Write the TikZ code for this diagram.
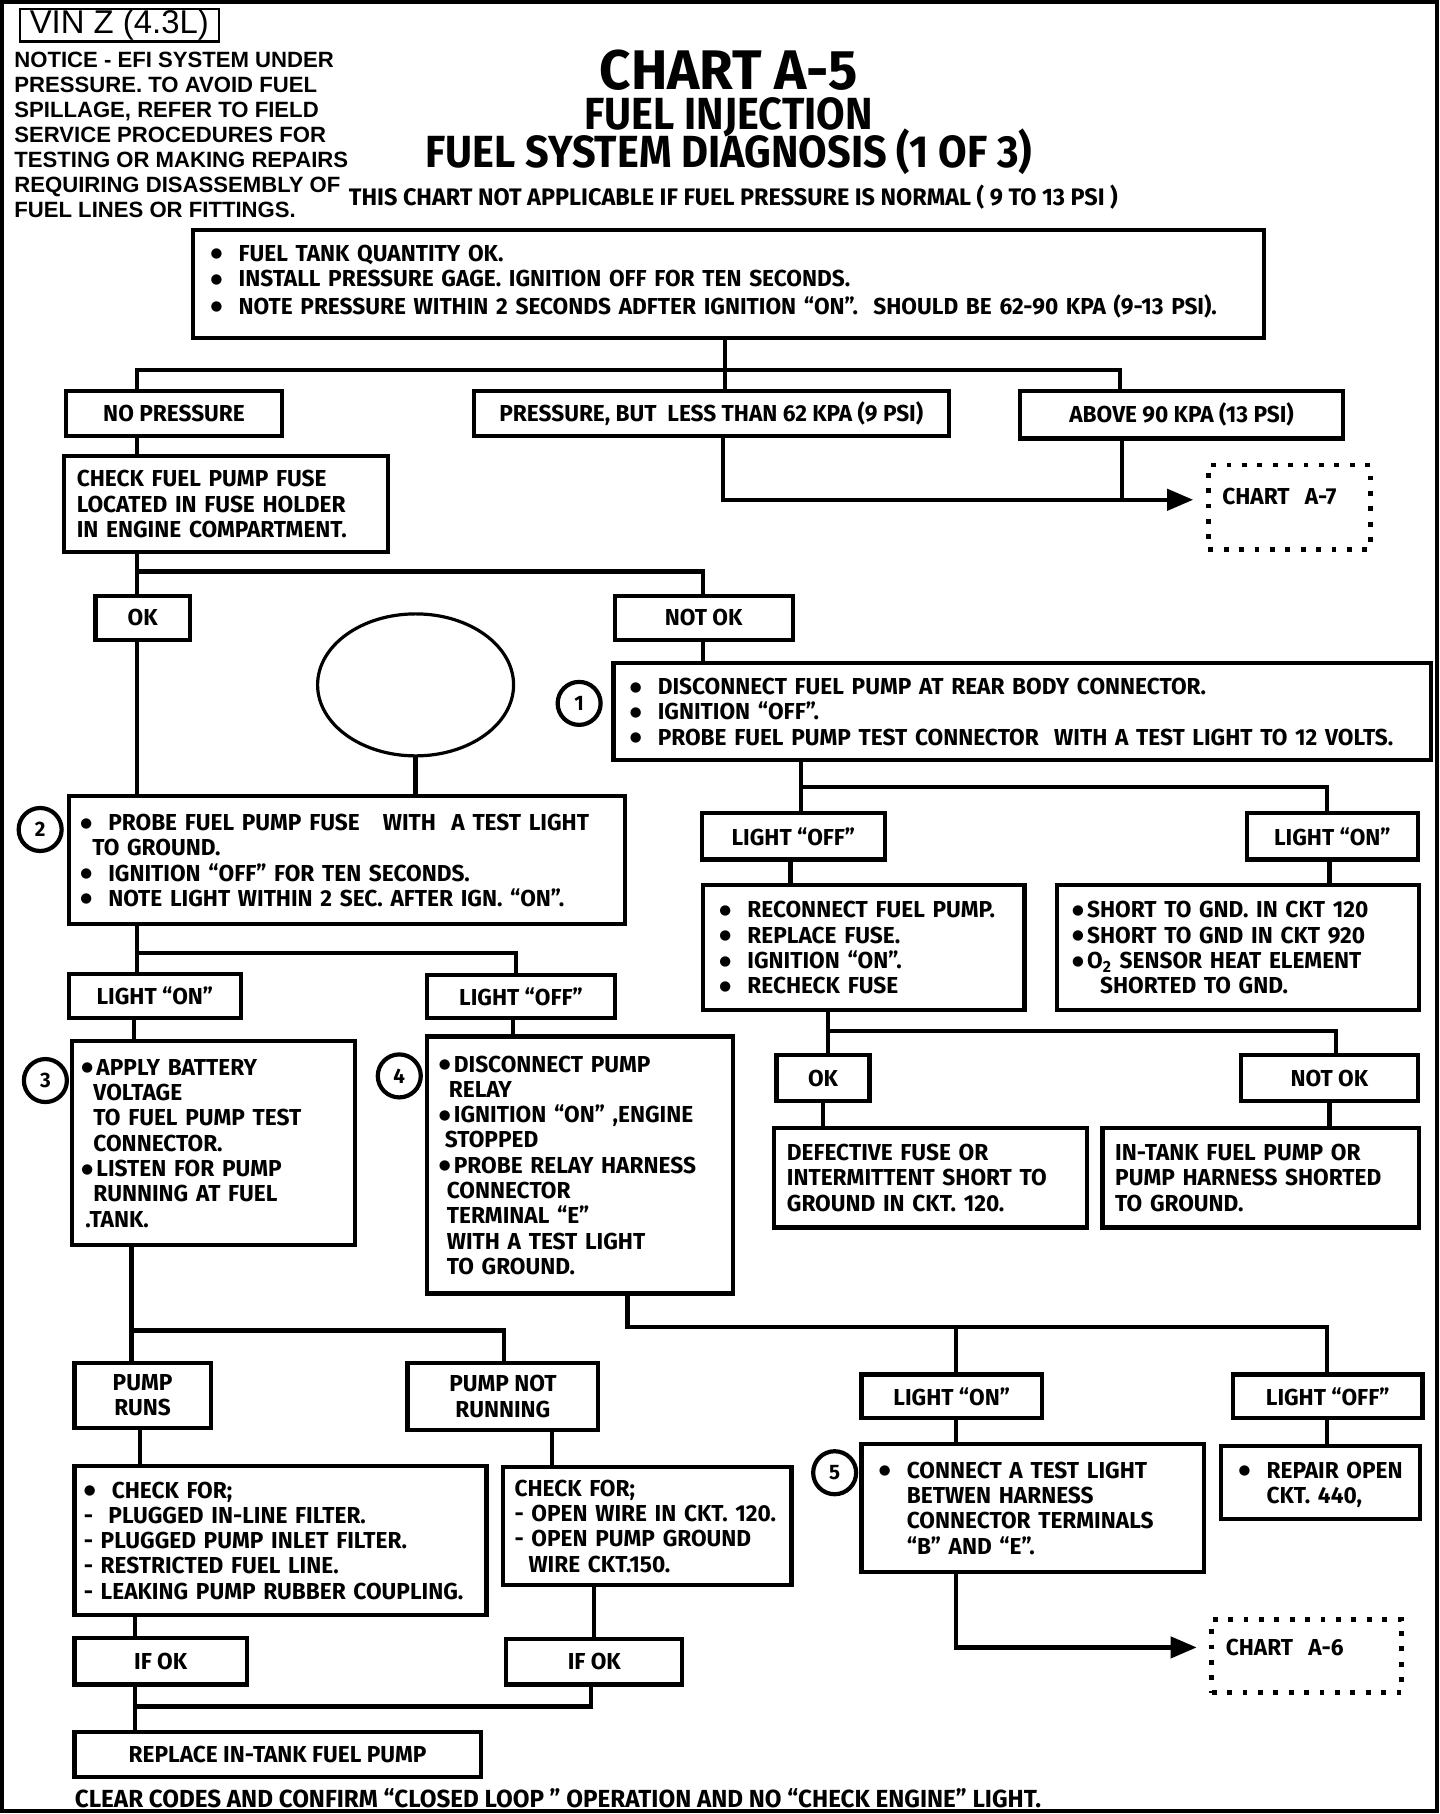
\documentclass[tikz,border=0pt]{standalone}
\usepackage{fontspec}
\usetikzlibrary{shapes.geometric,arrows.meta}
\newfontfamily\chartfont{Fira Sans}[FakeStretch=0.98]
\newfontfamily\titlefont{Fira Sans}[FakeStretch=0.92]
\newfontfamily\noticefont{Liberation Sans}
\newfontfamily\dotfont{DejaVu Sans}
\newcommand\bdot{{\dotfont\fontsize{6.8}{6.8}\selectfont\raisebox{1.7bp}{●}}}
\newcommand\bul{\makebox[14bp][l]{\bdot}}
\newcommand\sbul{\makebox[7.5bp][l]{\bdot}}
\tikzset{
  boxst/.style={draw, line width=2.1bp, inner ysep=0pt,
    font=\chartfont\bfseries\fontsize{11.6}{12.7}\selectfont},
  numc/.style={draw, circle, line width=2.1bp, minimum size=21.5bp, inner sep=0pt,
    font=\chartfont\bfseries\fontsize{10.5}{10.5}\selectfont},
  dotbox/.style={draw, line width=2.4bp, dash pattern=on 2.4bp off 5.3bp,
    align=left, inner ysep=0pt,
    font=\chartfont\bfseries\fontsize{11.6}{12.7}\selectfont},
  conn/.style={line width=2.1bp},
  arr/.style={conn, -{Triangle[length=13bp,width=10.5bp]}},
  ttl/.style={anchor=base, inner sep=0pt, text depth=0pt},
}
% centred label box: name, x1, y1, x2, y2, text
\newcommand\lbox[6]{%
  \pgfmathsetlengthmacro\bmw{(#4-#2)*0.58205bp}%
  \pgfmathsetlengthmacro\bmh{(#5-#3)*0.57844bp}%
  \node[boxst, align=center, inner xsep=0pt, minimum width=\bmw, minimum height=\bmh]
    (#1) at ({(#2+#4)/2},{(#3+#5)/2}) {#6};}
% left aligned text box: [raise], name, x1, y1, x2, y2, pad, text
\newcommand\tbox[8][-1.6bp]{%
  \pgfmathsetlengthmacro\bmw{(#5-#3)*0.58205bp}%
  \pgfmathsetlengthmacro\bmh{(#6-#4)*0.57844bp}%
  \pgfmathsetlengthmacro\btw{(#5-#3-2*#7)*0.58205bp}%
  \pgfmathsetlengthmacro\bpx{#7*0.58205bp}%
  \node[boxst, align=left, inner xsep=\bpx, text width=\btw, minimum width=\bmw, minimum height=\bmh]
    (#2) at ({(#3+#5)/2},{(#4+#6)/2})
    {\raisebox{#1}[\height][\depth]{\begin{tabular}{@{}l@{}}#8\end{tabular}}};}
% dotted reference box: name, x1, y1, x2, y2, pad, text
\newcommand\dbox[7]{%
  \pgfmathsetlengthmacro\bmw{(#4-#2)*0.58205bp}%
  \pgfmathsetlengthmacro\bmh{(#5-#3)*0.57844bp}%
  \pgfmathsetlengthmacro\btw{(#4-#2-2*#6)*0.58205bp}%
  \pgfmathsetlengthmacro\bpx{#6*0.58205bp}%
  \node[dotbox, inner xsep=\bpx, text width=\btw, minimum width=\bmw, minimum height=\bmh]
    (#1) at ({(#2+#4)/2},{(#3+#5)/2}) {#7};}
\begin{document}
\begin{tikzpicture}[x={(0.58205bp,0bp)}, y={(0bp,-0.57844bp)}]
\useasboundingbox (0,0) rectangle (1237,1568);
\draw[line width=2bp] (2,2) rectangle (1234,1565);

% header
\node[draw, line width=1.2bp, inner sep=0pt, minimum width=99.5bp, minimum height=16.2bp,
  font=\noticefont\fontsize{16.5}{16.5}\selectfont] (vin) at (102.5,22) {VIN Z (4.3L)};
\node[anchor=north west, inner sep=0pt, align=left,
  font=\noticefont\bfseries\fontsize{11.1}{12.55}\selectfont] (notice) at (12,45)
  {NOTICE - EFI SYSTEM UNDER\\PRESSURE. TO AVOID FUEL\\SPILLAGE, REFER TO FIELD\\SERVICE PROCEDURES FOR\\TESTING OR MAKING REPAIRS\\REQUIRING DISASSEMBLY OF\\FUEL LINES OR FITTINGS.};
\node[anchor=north, inner sep=0pt, align=center,
  font=\titlefont\bfseries\fontsize{22.6}{19.1}\selectfont] (title) at (626,77)
  {{\chartfont\fontsize{28}{19.1}\selectfont\smash{CHART A-5}}\\[1.1bp]\smash{FUEL INJECTION}\\\smash{FUEL SYSTEM DIAGNOSIS (1 OF 3)}};
\node[ttl, font=\chartfont\bfseries\fontsize{12}{12}\selectfont] (t4) at (630,178) {THIS CHART NOT APPLICABLE IF FUEL PRESSURE IS NORMAL ( 9 TO 13 PSI )};

% boxes
\tbox[0.7bp]{top}{166}{199}{1086}{292}{15}{\bul FUEL TANK QUANTITY OK.\\\bul INSTALL PRESSURE GAGE.\ IGNITION OFF FOR TEN SECONDS.\\\bul NOTE PRESSURE WITHIN 2 SECONDS ADFTER IGNITION “ON”.\ \ SHOULD BE 62-90 KPA (9-13 PSI).}
\lbox{nop}{57}{338}{242}{377}{NO PRESSURE}
\lbox{pres}{407}{338}{815}{377}{PRESSURE, BUT\ \ LESS THAN 62 KPA (9 PSI)}
\lbox{above}{876}{338}{1154}{379}{ABOVE 90 KPA (13 PSI)}
\dbox{chart7}{1038}{402}{1177}{475}{12}{CHART\ \ A-7\\[-1.5bp]\mbox{}}
\tbox{check}{55}{394}{333}{477}{11}{CHECK FUEL PUMP FUSE\\LOCATED IN FUSE HOLDER\\IN ENGINE COMPARTMENT.}
\lbox{ok1}{82}{515}{163}{553}{OK}
\lbox{notok1}{528}{515}{681}{553}{NOT OK}
\tbox{box1}{527}{573}{1229}{657}{14}{\bul DISCONNECT FUEL PUMP AT REAR BODY CONNECTOR.\\\bul IGNITION “OFF”.\\\bul PROBE FUEL PUMP TEST CONNECTOR\ \ WITH A TEST LIGHT TO 12 VOLTS.}
\node[draw, ellipse, line width=1.6bp, minimum width=98bp, minimum height=71bp] (ell) at (357,592) {};
\tbox{box2}{59}{688}{537}{799}{10}{\bul PROBE FUEL PUMP FUSE\ \ \ WITH\ \ A TEST LIGHT\\\hspace*{6bp}TO GROUND.\\\bul IGNITION “OFF” FOR TEN SECONDS.\\\bul NOTE LIGHT WITHIN 2 SEC. AFTER IGN. “ON”.}
\lbox{lon1}{59}{842}{207}{880}{LIGHT “ON”}
\lbox{loff1}{367}{843}{528}{880}{LIGHT “OFF”}
\tbox{box3}{62}{900}{305}{1076}{8}{\sbul APPLY BATTERY\\\hspace*{6bp}VOLTAGE\\\hspace*{6bp}TO FUEL PUMP TEST\\\hspace*{6bp}CONNECTOR.\\\sbul LISTEN FOR PUMP\\\hspace*{6bp}RUNNING AT FUEL\\\hspace*{2bp}.TANK.}
\tbox{box4}{367}{896}{630}{1118}{10}{\sbul DISCONNECT PUMP\\\hspace*{5bp}RELAY\\\sbul IGNITION “ON” ,ENGINE\\\hspace*{3bp}STOPPED\\\sbul PROBE RELAY HARNESS\\\hspace*{4bp}CONNECTOR\\\hspace*{4bp}TERMINAL “E”\\\hspace*{4bp}WITH A TEST LIGHT\\\hspace*{4bp}TO GROUND.}
\lbox{pruns}{64}{1178}{181}{1234}{PUMP\\RUNS}
\lbox{pnot}{350}{1178}{514}{1236}{PUMP NOT\\RUNNING}
\tbox{checkL}{64}{1267}{418}{1396}{8}{\bul CHECK FOR;\\-\ \ PLUGGED IN-LINE FILTER.\\- PLUGGED PUMP INLET FILTER.\\- RESTRICTED FUEL LINE.\\- LEAKING PUMP RUBBER COUPLING.}
\tbox{checkR}{432}{1268}{680}{1370}{10}{CHECK FOR;\\- OPEN WIRE IN CKT. 120.\\- OPEN PUMP GROUND\\\hspace*{7bp}WIRE CKT.150.}
\lbox{ifok1}{64}{1416}{212}{1456}{IF OK}
\lbox{ifok2}{435}{1417}{586}{1456}{IF OK}
\lbox{replace}{64}{1497}{413}{1536}{REPLACE IN-TANK FUEL PUMP}

\lbox{loff2}{603}{703}{760}{743}{LIGHT “OFF”}
\lbox{lon2}{1071}{703}{1218}{743}{LIGHT “ON”}
\tbox{reconnect}{604}{765}{880}{873}{14}{\bul RECONNECT FUEL PUMP.\\\bul REPLACE FUSE.\\\bul IGNITION “ON”.\\\bul RECHECK FUSE}
\tbox{short}{908}{765}{1219}{873}{13}{\sbul SHORT TO GND. IN CKT 120\\\sbul SHORT TO GND IN CKT 920\\\sbul O\textsubscript{2} SENSOR HEAT ELEMENT\\\hspace*{14bp}SHORTED TO GND.}
\lbox{ok2}{667}{912}{747}{952}{OK}
\lbox{notok2}{1066}{912}{1218}{952}{NOT OK}
\tbox{defective}{665}{975}{934}{1061}{11}{DEFECTIVE FUSE OR\\INTERMITTENT SHORT TO\\GROUND IN CKT. 120.}
\tbox{intank}{947}{975}{1219}{1061}{11}{IN-TANK FUEL PUMP OR\\PUMP HARNESS SHORTED\\TO GROUND.}
\lbox{lon3}{740}{1188}{895}{1226}{LIGHT “ON”}
\lbox{loff3}{1059}{1188}{1222}{1226}{LIGHT “OFF”}
\tbox{box5}{740}{1248}{1034}{1359}{15}{\bul CONNECT A TEST LIGHT\\\hspace*{14bp}BETWEN HARNESS\\\hspace*{14bp}CONNECTOR TERMINALS\\\hspace*{14bp}“B” AND “E”.}
\tbox{repair}{1049}{1250}{1220}{1313}{15}{\bul REPAIR OPEN\\\hspace*{14bp}CKT. 440,}
\dbox{chart6}{1041}{1400}{1204}{1463}{12}{CHART\ \ A-6\\[-4bp]\mbox{}}

% number circles
\node[numc] (n1) at (497.5,608) {1};
\node[numc] (n2) at (34.5,717) {2};
\node[numc] (n3) at (39,934) {3};
\node[numc] (n4) at (343,930) {4};
\node[numc] (n5) at (717,1273) {5};

\node[anchor=base west, inner sep=0pt, font=\chartfont\bfseries\fontsize{12.4}{12.4}\selectfont] (foot) at (64,1562)
  {CLEAR CODES AND CONFIRM “CLOSED LOOP ” OPERATION AND NO “CHECK ENGINE” LIGHT.};

% junction coordinates
\coordinate (J1) at (623,320);
\coordinate (J2) at (621,432);
\coordinate (A7) at (1025,432);
\coordinate (J3) at (604,494);
\coordinate (J4) at (443,824);
\coordinate (J5) at (433,1150);
\coordinate (J6) at (821,1147);
\coordinate (J7) at (1140,1147);
\coordinate (J8) at (116,1475);
\coordinate (A6) at (1028,1424);
\coordinate (J9) at (1140,680);
\coordinate (J10) at (1148,891);

% connectors
\draw[conn] (top.south -| J1) -- (pres.north -| J1);
\draw[conn] (nop.north -| 118,0) |- (J1) -| (above.north -| 962,0);
\draw[arr] (pres.south -| J2) |- (A7);
\draw[conn] (above.south -| 964,0) -- (J2 -| 964,0);
\draw[conn] (nop.south -| 118,0) -- (check.north -| 118,0);
\draw[conn] (check.south -| 118,0) -- (ok1.north -| 118,0);
\draw[conn] (check.south -| 118,0) |- (J3) -- (notok1.north -| J3);
\draw[conn] (ok1.south -| 118,0) -- (box2.north -| 118,0);
\draw[conn] (notok1.south -| 604,0) -- (box1.north -| 604,0);
\draw[conn] (ell.south) -- (box2.north -| ell.south);
\draw[conn] (box2.south -| 118,0) -- (lon1.north -| 118,0);
\draw[conn] (box2.south -| 118,0) |- (J4) -- (loff1.north -| J4);
\draw[conn] (lon1.south -| 115,0) -- (box3.north -| 115,0);
\draw[conn] (loff1.south -| 441,0) -- (box4.north -| 441,0);
\draw[conn] (box3.south -| 113,0) -- (pruns.north -| 113,0);
\draw[conn] (box3.south -| 113,0) |- (J5) -- (pnot.north -| J5);
\draw[conn] (box4.south -| 539,0) |- (J7) -- (loff3.north -| J7);
\draw[conn] (J6) -- (lon3.north -| J6);
\draw[conn] (pruns.south -| 120,0) -- (checkL.north -| 120,0);
\draw[conn] (pnot.south -| 474,0) -- (checkR.north -| 474,0);
\draw[conn] (checkL.south -| 116,0) -- (ifok1.north -| 116,0);
\draw[conn] (checkR.south -| 510,0) -- (ifok2.north -| 510,0);
\draw[conn] (ifok1.south -| J8) -- (replace.north -| J8);
\draw[conn] (ifok2.south -| 508,0) |- (J8);
\draw[conn] (lon3.south -| 821,0) -- (box5.north -| 821,0);
\draw[conn] (loff3.south -| 1140,0) -- (repair.north -| 1140,0);
\draw[arr] (box5.south -| 821,0) |- (A6);
\draw[conn] (box1.south -| 688,0) -- (loff2.north -| 688,0);
\draw[conn] (box1.south -| 688,0) |- (J9) -- (lon2.north -| J9);
\draw[conn] (loff2.south -| 679,0) -- (reconnect.north -| 679,0);
\draw[conn] (lon2.south -| 1142,0) -- (short.north -| 1142,0);
\draw[conn] (reconnect.south -| 711,0) -- (ok2.north -| 711,0);
\draw[conn] (reconnect.south -| 711,0) |- (J10) -- (notok2.north -| J10);
\draw[conn] (ok2.south -| 707,0) -- (defective.north -| 707,0);
\draw[conn] (notok2.south -| 1142,0) -- (intank.north -| 1142,0);
\end{tikzpicture}
\end{document}
